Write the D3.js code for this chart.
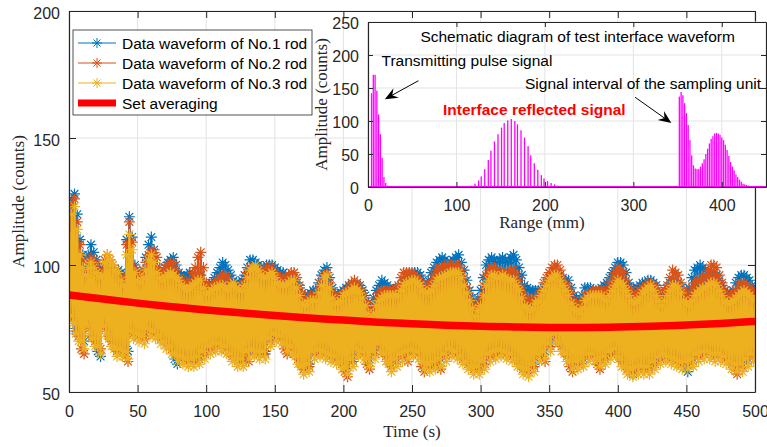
<!DOCTYPE html>
<html>
<head>
<meta charset="utf-8">
<script src="https://cdn.jsdelivr.net/npm/d3@7"></script>
<style>
  body { margin: 0; background: #fff; }
  svg { display: block; font-family: "Liberation Sans", Arial, sans-serif; }
</style>
</head>
<body>
<svg width="767" height="447"></svg>
<script>
// ---- main chart data (one sample per second, t = 0..500) ----
const sampleStep = 1;
const rod1 = [
  120,82,126,80,128,75,120,73,110,72,104,70,99,78,104,76,108,73,105,71,
  102,66,99,64,97,78,98,76,100,73,99,71,97,69,97,67,98,69,97,67,
  96,68,110,66,119,76,111,74,100,75,97,73,94,74,98,72,103,77,108,75,
  111,76,106,74,99,74,97,72,96,72,99,70,101,70,102,68,103,63,100,61,
  97,66,96,64,95,65,96,63,97,65,95,63,94,66,95,64,96,68,93,66,
  91,70,92,68,93,71,95,69,97,71,99,69,101,70,100,68,98,67,96,65,
  94,65,93,63,93,65,94,63,96,68,99,66,102,69,102,67,101,68,100,66,
  99,68,99,66,100,73,100,71,100,75,99,73,98,74,97,72,97,71,96,69,
  94,70,95,68,95,66,93,64,91,62,89,60,88,63,88,61,89,68,90,66,
  90,69,93,67,96,68,98,66,99,67,95,65,91,66,89,64,88,64,89,62,
  90,62,91,60,92,65,92,63,92,69,92,67,92,68,90,66,88,65,85,63,
  83,68,87,66,90,71,92,69,94,67,93,65,92,63,91,61,90,65,90,63,
  91,67,92,65,94,68,95,66,95,69,96,67,97,68,97,66,96,64,94,62,
  92,63,94,61,97,64,99,62,101,65,102,63,103,67,102,65,101,69,101,67,
  102,68,103,66,104,66,101,64,98,64,94,62,90,62,87,60,85,62,87,60,
  90,64,95,62,100,67,102,65,103,68,102,66,101,69,102,67,103,68,102,66,
  101,67,103,65,104,65,102,63,99,62,96,60,92,61,91,59,90,63,90,61,
  90,67,90,65,89,68,91,66,93,71,95,69,96,75,97,73,97,71,96,69,
  94,67,94,65,94,64,91,62,88,64,87,62,86,65,88,63,91,67,91,65,
  91,67,90,65,89,65,90,63,91,66,92,64,93,68,95,66,97,69,99,67,
  101,65,101,63,100,62,97,60,93,59,91,57,90,62,91,60,92,62,93,60,
  93,62,94,60,94,64,93,62,92,66,89,64,86,67,89,65,91,66,93,64,
  94,65,94,63,93,64,91,62,89,60,90,58,91,65,95,63,98,67,99,65,
  100,68,99,66,98,68,98,66,97,67,97,65,96,67,94,65,92,66,90,64,
  89,64,89,62,90,63,93,61,95,63,96,61,96,65,95,63,94,67,92,65,90
];
const rod2 = [
  118,81,124,79,126,74,117,72,108,67,102,65,98,77,101,75,103,72,102,70,
  100,69,98,67,98,77,102,75,104,72,102,70,100,68,98,66,96,68,95,66,
  95,64,108,62,117,75,109,73,99,74,96,72,95,73,98,71,101,76,104,74,
  106,75,105,73,103,73,99,71,97,71,99,69,100,69,101,67,101,66,98,64,
  95,65,94,63,93,64,93,62,94,64,97,62,99,65,103,63,105,67,99,65,
  93,69,92,67,92,70,93,68,94,70,95,68,96,69,96,67,95,66,93,64,
  92,64,91,62,91,64,92,62,94,64,97,62,99,68,99,66,98,67,97,65,
  97,67,98,65,99,72,99,70,99,74,97,72,96,73,95,71,95,67,95,65,
  96,69,97,67,97,65,95,63,92,61,89,59,87,62,87,60,88,67,88,65,
  88,68,91,66,94,67,96,65,97,66,93,64,89,65,88,63,87,63,88,61,
  89,58,90,56,91,64,93,62,94,68,93,66,91,67,89,65,86,61,84,59,
  82,67,84,65,87,70,89,68,90,66,90,64,90,62,90,60,90,64,91,62,
  92,66,95,64,97,64,97,62,97,68,97,66,96,67,95,65,94,60,92,58,
  91,62,92,60,94,63,96,61,98,61,99,59,99,66,100,64,100,68,100,66,
  100,67,100,65,100,65,98,63,95,63,91,61,88,61,85,59,83,61,85,59,
  87,63,92,61,96,66,98,64,99,67,99,65,98,68,97,66,97,67,97,65,
  97,66,98,64,98,64,96,62,94,61,91,59,88,60,87,58,86,62,86,60,
  87,66,88,64,90,64,93,62,95,70,97,68,99,74,100,72,100,70,98,68,
  95,66,93,64,91,60,89,58,86,63,85,61,84,64,86,62,88,66,89,64,
  89,66,90,64,90,61,90,59,90,65,90,63,90,67,93,65,95,68,97,66,
  99,64,98,62,97,61,94,59,91,60,90,58,88,61,89,59,90,61,91,59,
  92,61,93,59,93,63,92,61,91,65,89,63,87,66,90,64,92,65,95,63,
  98,64,97,62,96,63,93,61,90,63,89,61,88,64,91,62,93,66,94,64,
  94,67,95,65,96,67,98,65,100,66,100,64,99,66,96,64,93,65,90,63,
  88,63,88,61,89,59,90,57,92,62,93,60,93,64,92,62,91,66,90,64,89
];
const rod3 = [
  112,80,120,77,123,73,114,70,104,70,99,67,96,76,99,73,101,71,99,68,
  97,68,95,65,96,76,101,73,104,71,102,68,100,67,98,64,97,67,94,64,
  92,66,104,63,112,74,106,71,97,73,94,70,93,72,95,69,98,75,102,72,
  104,74,101,71,97,72,95,69,94,70,95,67,96,68,97,65,96,65,95,62,
  94,64,92,61,91,63,90,60,91,63,92,60,93,64,94,61,94,66,91,63,
  89,68,89,65,90,69,91,66,91,69,92,66,92,68,91,65,90,65,92,62,
  93,63,91,60,90,63,90,60,92,66,95,63,98,67,99,64,100,66,98,63,
  96,66,95,63,95,71,96,68,97,73,95,70,93,72,92,69,92,69,92,66,
  93,68,94,65,94,64,91,61,88,60,85,57,84,61,85,58,86,66,86,63,
  86,67,89,64,92,66,95,63,96,65,91,62,87,64,85,61,85,62,86,59,
  88,60,89,57,89,63,90,60,91,67,90,64,89,66,87,63,84,63,81,60,
  79,66,81,63,84,69,86,66,87,65,88,62,88,61,88,58,88,63,88,60,
  88,65,90,62,92,66,93,63,93,67,94,64,94,66,93,63,92,62,90,59,
  89,61,89,58,90,62,92,59,94,63,95,60,95,65,96,62,96,67,97,64,
  97,66,97,63,97,64,95,61,92,62,89,59,86,60,83,57,80,60,82,57,
  84,62,88,59,92,65,94,62,96,66,96,63,95,67,95,64,96,66,95,63,
  94,65,94,62,94,63,92,60,90,60,87,57,84,59,83,56,82,61,83,58,
  85,65,86,62,88,66,90,63,92,69,94,66,95,73,96,70,96,69,94,66,
  92,65,90,62,88,62,85,59,83,62,82,59,81,63,83,60,86,65,87,62,
  88,65,88,62,88,63,88,60,88,64,87,61,86,66,88,63,90,67,92,64,
  94,63,93,60,92,60,90,57,88,59,86,56,85,60,86,57,87,60,89,57,
  90,60,91,57,92,62,90,59,88,64,86,61,84,65,86,62,88,64,90,61,
  92,63,92,60,91,62,89,59,86,62,85,59,84,63,86,60,88,65,89,62,
  90,66,91,63,91,66,92,63,93,65,93,62,92,65,90,62,88,64,86,61,
  85,62,85,59,86,61,87,58,88,61,89,58,90,63,89,60,88,65,87,62,86
];
const avgTime = [0,25,50,75,100,125,150,175,200,225,250,275,300,325,350,375,400,425,450,475,500];
const avgValues = [88.2,86.6,85.0,83.6,82.3,81.2,80.1,79.1,78.3,77.5,76.9,76.3,75.9,75.6,75.4,75.4,75.6,75.9,76.4,77.0,77.8];
const seriesNames = ["Data waveform of No.1 rod", "Data waveform of No.2 rod", "Data waveform of No.3 rod"];
const avgName = "Set averaging";
const xTicks = [0,50,100,150,200,250,300,350,400,450,500];
const yTicks = [50,100,150,200];

// ---- inset data ----
const insetRange = [
  4,6,8,10,12,14,16,18,20,22,
  113,117,121,125,128,132,136,139,143,147,151,154,158,162,166,169,173,177,181,184,188,192,196,199,203,207,211,214,218,222,
  352,354,356,358,360,362,364,366,368,370,372,374,376,378,380,382,384,386,388,390,
  392,394,396,398,400,402,404,406,408,410,412,414,416,418,420,422,424,426,428,430,432
];
const insetAmp = [
  142,170,170,146,110,80,44,15,6,2,
  1,2,5,10,16,27,41,55,69,80,90,97,101,103,100,95,86,75,62,48,36,26,18,13,9,6,4,2,1,1,
  137,144,139,127,112,94,71,48,33,28,27,27,31,36,42,50,58,66,73,77,
  81,82,81,79,75,71,64,56,47,38,31,25,19,15,11,8,5,4,3,2,1
];
const insetXTicks = [0,100,200,300,400];
const insetYTicks = [0,50,100,150,200,250];

const colors = ["#0072BD", "#D95319", "#EDB120"];
const ink = "#262626";
const gridColor = "#e3e3e3";

const svg = d3.select("svg");

const x = d3.scaleLinear().domain([0, 500]).range([69, 755]);
const y = d3.scaleLinear().domain([50, 200]).range([392, 11]);

svg.append("defs").append("clipPath").attr("id", "clipMain")
  .append("rect")
  .attr("x", x(0)).attr("y", y(200))
  .attr("width", x(500) - x(0)).attr("height", y(50) - y(200));

function star(cx, cy, r) {
  const d = r * 0.7071;
  return `M${cx - r},${cy}H${cx + r}M${cx},${cy - r}V${cy + r}` +
    `M${cx - d},${cy - d}L${cx + d},${cy + d}M${cx - d},${cy + d}L${cx + d},${cy - d}`;
}

// grid
const grid = svg.append("g").attr("stroke", gridColor).attr("stroke-width", 1);
grid.selectAll(".gx").data(xTicks).join("line").attr("class", "gx")
  .attr("x1", d => x(d)).attr("x2", d => x(d)).attr("y1", y(50)).attr("y2", y(200));
grid.selectAll(".gy").data(yTicks).join("line").attr("class", "gy")
  .attr("x1", x(0)).attr("x2", x(500)).attr("y1", d => y(d)).attr("y2", d => y(d));

// series
const plot = svg.append("g").attr("clip-path", "url(#clipMain)");
const line = d3.line().x((d, i) => x(i * sampleStep)).y(d => y(d));

[rod1, rod2, rod3].forEach((values, k) => {
  plot.append("path")
    .attr("d", line(values))
    .attr("fill", "none")
    .attr("stroke", colors[k])
    .attr("stroke-width", 2.2);
  plot.append("path")
    .attr("d", values.map((v, i) => star(x(i * sampleStep), y(v), 5.5)).join(""))
    .attr("fill", "none")
    .attr("stroke", colors[k])
    .attr("stroke-width", 1.2);
});

plot.append("path")
  .datum(avgValues)
  .attr("d", d3.line().x((d, i) => x(avgTime[i])).y(d => y(d)).curve(d3.curveNatural))
  .attr("fill", "none")
  .attr("stroke", "#ff0000")
  .attr("stroke-width", 7.5);

// axes
function styleAxis(g, size) {
  g.attr("color", ink).attr("font-family", null).attr("font-size", size);
  g.select(".domain").attr("stroke-width", 1.2);
}

svg.append("g")
  .attr("transform", `translate(0,${y(50)})`)
  .call(d3.axisBottom(x).tickValues(xTicks).tickSizeInner(-7).tickSizeOuter(0).tickPadding(14))
  .call(g => styleAxis(g, 16));
svg.append("g")
  .attr("transform", `translate(0,${y(200)})`)
  .call(d3.axisTop(x).tickValues(xTicks).tickSizeInner(-7).tickSizeOuter(0).tickFormat(""))
  .call(g => styleAxis(g, 16));
svg.append("g")
  .attr("transform", `translate(${x(0)},0)`)
  .call(d3.axisLeft(y).tickValues(yTicks).tickSizeInner(-7).tickSizeOuter(0).tickPadding(9))
  .call(g => styleAxis(g, 16))
  .call(g => g.selectAll("text").attr("dy", "0.45em"));
svg.append("g")
  .attr("transform", `translate(${x(500)},0)`)
  .call(d3.axisRight(y).tickValues(yTicks).tickSizeInner(-7).tickSizeOuter(0).tickFormat(""))
  .call(g => styleAxis(g, 16));

svg.append("text")
  .attr("x", (x(0) + x(500)) / 2).attr("y", 437)
  .attr("text-anchor", "middle")
  .attr("font-family", "'Liberation Serif', 'Times New Roman', serif")
  .attr("font-size", 17).attr("fill", ink)
  .text("Time (s)");
svg.append("text")
  .attr("transform", `translate(24,${(y(50) + y(200)) / 2}) rotate(-90)`)
  .attr("text-anchor", "middle")
  .attr("font-family", "'Liberation Serif', 'Times New Roman', serif")
  .attr("font-size", 17).attr("fill", ink)
  .text("Amplitude (counts)");

// legend
const legend = svg.append("g");
legend.append("rect")
  .attr("x", 73).attr("y", 30).attr("width", 239).attr("height", 85)
  .attr("fill", "#fff").attr("stroke", ink).attr("stroke-width", 0.8);
seriesNames.forEach((name, k) => {
  const ly = 43 + k * 20;
  legend.append("line").attr("x1", 78).attr("x2", 116).attr("y1", ly).attr("y2", ly)
    .attr("stroke", colors[k]).attr("stroke-width", 1.2);
  legend.append("path").attr("d", star(97, ly, 5)).attr("stroke", colors[k]).attr("fill", "none");
  legend.append("text").attr("x", 122).attr("y", ly + 5.5)
    .attr("font-size", 15.5).attr("fill", "#000").text(name);
});
legend.append("rect").attr("x", 78).attr("y", 99.5).attr("width", 38).attr("height", 7).attr("fill", "#ff0000");
legend.append("text").attr("x", 122).attr("y", 108.5).attr("font-size", 15.5).attr("fill", "#000").text(avgName);

// ---- inset ----
const ix = d3.scaleLinear().domain([0, 450]).range([368, 766]);
const iy = d3.scaleLinear().domain([0, 250]).range([187, 22]);
const inset = svg.append("g");

inset.append("rect")
  .attr("x", ix(0)).attr("y", iy(250))
  .attr("width", ix(450) - ix(0)).attr("height", iy(0) - iy(250))
  .attr("fill", "#fff");

const igrid = inset.append("g").attr("stroke", gridColor).attr("stroke-width", 1);
igrid.selectAll(".gx").data(insetXTicks).join("line").attr("class", "gx")
  .attr("x1", d => ix(d)).attr("x2", d => ix(d)).attr("y1", iy(0)).attr("y2", iy(250));
igrid.selectAll(".gy").data(insetYTicks).join("line").attr("class", "gy")
  .attr("x1", ix(0)).attr("x2", ix(450)).attr("y1", d => iy(d)).attr("y2", d => iy(d));

inset.append("line")
  .attr("x1", ix(0)).attr("x2", ix(450)).attr("y1", iy(0)).attr("y2", iy(0))
  .attr("stroke", "#ff00ff").attr("stroke-width", 2);
inset.selectAll(".spike").data(insetAmp).join("rect").attr("class", "spike")
  .attr("x", (d, i) => ix(insetRange[i]) - 0.65)
  .attr("width", 1.3)
  .attr("y", d => iy(d))
  .attr("height", d => iy(0) - iy(d))
  .attr("fill", "#ff00ff");

inset.append("g")
  .attr("transform", `translate(0,${iy(0)})`)
  .call(d3.axisBottom(ix).tickValues(insetXTicks).tickSizeInner(-5).tickSizeOuter(0).tickPadding(13))
  .call(g => styleAxis(g, 16));
inset.append("g")
  .attr("transform", `translate(0,${iy(250)})`)
  .call(d3.axisTop(ix).tickValues(insetXTicks).tickSizeInner(-5).tickSizeOuter(0).tickFormat(""))
  .call(g => styleAxis(g, 16));
inset.append("g")
  .attr("transform", `translate(${ix(0)},0)`)
  .call(d3.axisLeft(iy).tickValues(insetYTicks).tickSizeInner(-5).tickSizeOuter(0).tickPadding(9))
  .call(g => styleAxis(g, 16))
  .call(g => g.selectAll("text").attr("dy", "0.4em"));
inset.append("g")
  .attr("transform", `translate(${ix(450)},0)`)
  .call(d3.axisRight(iy).tickValues(insetYTicks).tickSizeInner(-5).tickSizeOuter(0).tickFormat(""))
  .call(g => styleAxis(g, 16));

inset.append("text")
  .attr("x", 542).attr("y", 228)
  .attr("text-anchor", "middle")
  .attr("font-family", "'Liberation Serif', 'Times New Roman', serif")
  .attr("font-size", 17).attr("fill", ink)
  .text("Range (mm)");
inset.append("text")
  .attr("transform", `translate(327,${(iy(0) + iy(250)) / 2}) rotate(-90)`)
  .attr("text-anchor", "middle")
  .attr("font-family", "'Liberation Serif', 'Times New Roman', serif")
  .attr("font-size", 17).attr("fill", ink)
  .text("Amplitude (counts)");

// annotations, placed in inset data units
inset.append("text").attr("x", ix(237)).attr("y", iy(219)).attr("text-anchor", "middle")
  .attr("font-size", 15.5).attr("fill", "#000").text("Schematic diagram of test interface waveform");
inset.append("text").attr("x", ix(15.3)).attr("y", iy(182.6))
  .attr("font-size", 15.5).attr("fill", "#000").text("Transmitting pulse signal");
inset.append("text").attr("x", ix(177.5)).attr("y", iy(149.2))
  .attr("font-size", 15.5).attr("fill", "#000").text("Signal interval of the sampling unit");
inset.append("text").attr("x", ix(84.8)).attr("y", iy(109.8))
  .attr("font-size", 15.5).attr("font-weight", "bold").attr("fill", "#ff0000").text("Interface reflected signal");

function arrow(from, to) {
  const x1 = ix(from[0]), y1 = iy(from[1]), x2 = ix(to[0]), y2 = iy(to[1]);
  const a = Math.atan2(y2 - y1, x2 - x1);
  const ux = Math.cos(a), uy = Math.sin(a), nx = -uy, ny = ux;
  const L = 13, W = 5.5;
  inset.append("line")
    .attr("x1", x1).attr("y1", y1).attr("x2", x2 - ux * L * 0.6).attr("y2", y2 - uy * L * 0.6)
    .attr("stroke", "#000").attr("stroke-width", 1);
  const pts = [
    [x2, y2],
    [x2 - ux * L + nx * W, y2 - uy * L + ny * W],
    [x2 - ux * L * 0.65, y2 - uy * L * 0.65],
    [x2 - ux * L - nx * W, y2 - uy * L - ny * W]
  ];
  inset.append("path").attr("d", "M" + pts.join("L") + "Z").attr("fill", "#000");
}
arrow([57, 161], [19, 133]);
arrow([302, 136], [343, 97]);
</script>
</body>
</html>
